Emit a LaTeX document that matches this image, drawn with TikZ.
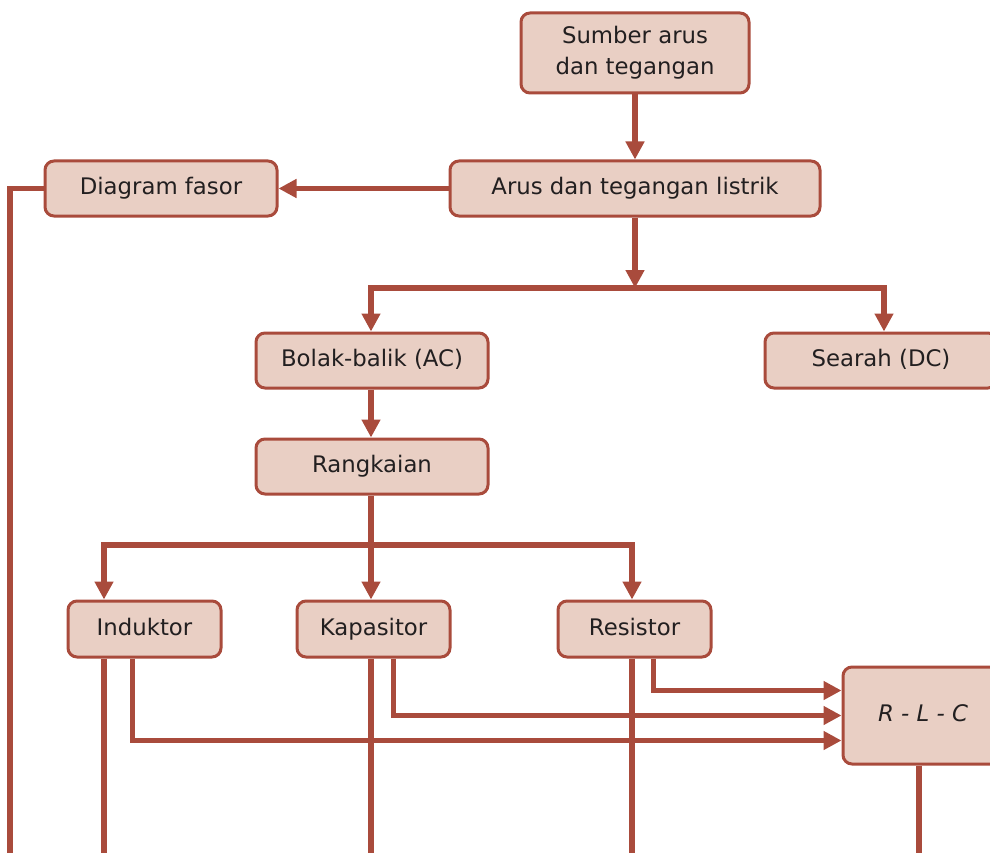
\documentclass[tikz,border=0pt]{standalone}
\usepackage{fontspec}
\setmainfont{DejaVu Sans}
\usepackage{xcolor}
\usepackage{tikz}
\usetikzlibrary{arrows.meta, positioning}

\definecolor{linered}{RGB}{169,75,60}
\definecolor{boxfill}{RGB}{233,207,196}
\definecolor{textdark}{RGB}{34,31,32}

\begin{document}
\begin{tikzpicture}[
  x=1pt, y=-1pt,
  box/.style={rectangle, draw=linered, fill=boxfill, line width=3pt,
             rounded corners=9pt, align=center, inner sep=2pt,
             minimum height=55pt, text=textdark,
             text height=17pt, text depth=5pt,
             font=\fontsize{22.8}{31}\selectfont},
  widebox/.style={box, minimum width=232pt},
  smallbox/.style={box, minimum width=153pt, minimum height=56pt},
  link/.style={line width=5.5pt, color=linered},
  arrow/.style={link, -{Triangle[length=18pt, width=18pt]}}
]
\useasboundingbox (0,0) rectangle (990,853);
\clip (0,0) rectangle (990,853);

\node[box, text height=, text depth=, minimum width=228pt,
      minimum height=80pt] (src) at (635,53)
  {Sumber arus\\dan tegangan};
\node[box, minimum width=370pt, below=65pt of src] (arus)
  {Arus dan tegangan listrik};
\node[widebox, left=170pt of arus] (fasor) {Diagram fasor};
\node[widebox] (ac) at (372,360.5) {Bolak-balik (AC)};
\node[box, minimum width=232pt, right=274pt of ac] (dc) {Searah (DC)};
\node[widebox, below=48pt of ac] (rangk) {Rangkaian};
\node[smallbox] (kap) at (373.5,629) {Kapasitor};
\node[smallbox, left=73pt of kap] (ind) {Induktor};
\node[smallbox, right=105pt of kap] (res) {Resistor};
\node[box, minimum width=160pt, minimum height=97pt] (rlc) at (923,715.5)
  {\textit{R - L - C}};

% branch points and open ends
\coordinate (splitA) at (635,288);
\coordinate (splitB) at (371,545);
\coordinate (fasorOut) at (10,870);
\coordinate (indOut) at (104,870);
\coordinate (kapOut) at (371,870);
\coordinate (resOut) at (632,870);
\coordinate (dcIn) at (884,0);
\coordinate (rlcOut) at (919,870);

\draw[arrow] (src.south) -- (arus.north);
\draw[arrow] (arus.west) -- (fasor.east);
\draw[link] (fasor.west) -| (fasorOut);

\draw[arrow] (arus.south) -- (splitA);
\draw[arrow] (splitA) -| (ac.north -| splitB);
\draw[arrow] (splitA) -| (dc.north -| dcIn);
\draw[arrow] (ac.south -| splitB) -- (rangk.north -| splitB);

\draw[link] (rangk.south -| splitB) -- (splitB);
\draw[arrow] (splitB) -| (ind.north -| indOut);
\draw[arrow] (splitB) -- (kap.north -| splitB);
\draw[arrow] (splitB) -| (res.north -| resOut);

\draw[link] (ind.south -| indOut) -- (indOut);
\draw[link] (kap.south -| kapOut) -- (kapOut);
\draw[link] (res.south -| resOut) -- (resOut);
\draw[link] (rlc.south -| rlcOut) -- (rlcOut);

\draw[arrow] ([xshift=-12pt]ind.south) |- ([yshift=-25pt]rlc.west);
\draw[arrow] ([xshift=20pt]kap.south) |- (rlc.west);
\draw[arrow] ([xshift=19pt]res.south) |- ([yshift=25pt]rlc.west);

\end{tikzpicture}
\end{document}
